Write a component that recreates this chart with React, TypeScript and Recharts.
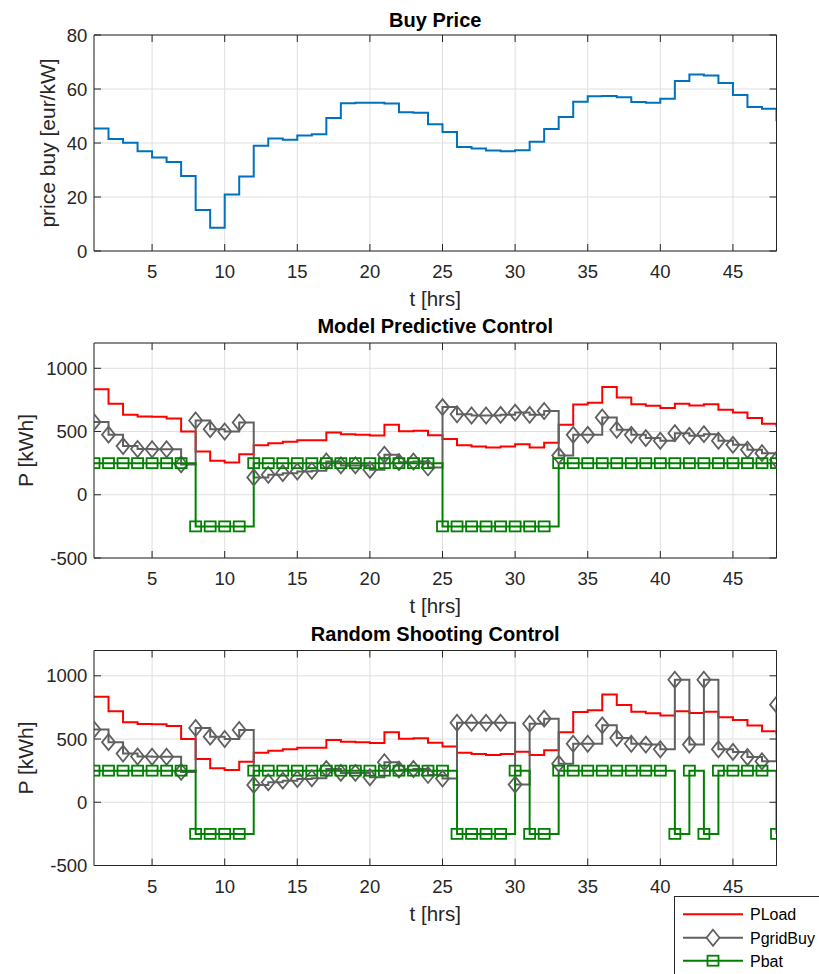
import React from 'react';
import { LineChart, Line, XAxis, YAxis, CartesianGrid } from 'recharts';

// ---------- data ----------
const hours = [1,2,3,4,5,6,7,8,9,10,11,12,13,14,15,16,17,18,19,20,21,22,23,24,25,26,27,28,29,30,31,32,33,34,35,36,37,38,39,40,41,42,43,44,45,46,47,48];

const priceBuy = [45.4,41.5,40.1,36.9,34.6,33.0,27.8,15.2,8.6,20.9,27.6,39.0,41.7,41.2,42.8,43.2,49.3,54.7,54.9,54.9,54.6,51.4,51.2,46.9,44.1,38.5,38.0,37.2,36.9,37.3,40.5,45.2,49.6,55.3,57.3,57.4,56.9,55.2,54.9,56.4,63.0,65.4,65.0,62.2,57.8,53.3,52.7,48.1];

const pLoad = [835,719,632,619,616,603,500,342,269,255,321,392,408,419,432,432,492,479,474,469,553,503,506,471,440,392,382,374,382,400,374,411,553,714,727,853,769,716,703,687,719,706,716,672,650,606,561,535];

const pGridMPC = [575,475,385,362,360,360,240,587,519,500,571,137,158,171,184,190,263,232,232,198,316,258,263,216,693,637,627,627,632,650,632,662,310,474,474,611,514,474,448,427,487,466,479,427,395,356,329,277];
const pBatMPC = [250,250,250,250,250,250,250,-250,-250,-250,-250,250,250,250,250,250,250,250,250,250,250,250,250,250,-250,-250,-250,-250,-250,-250,-250,-250,250,250,250,250,250,250,250,250,250,250,250,250,250,250,250,250];

const pGridRS = [575,475,385,362,360,360,240,587,519,500,571,137,158,171,184,190,263,232,232,198,316,258,263,216,187,629,629,629,629,140,621,661,305,463,463,608,508,463,456,419,969,456,969,419,398,358,324,772];
const pBatRS = [250,250,250,250,250,250,250,-250,-250,-250,-250,250,250,250,250,250,250,250,250,250,250,250,250,250,250,-250,-250,-250,-250,250,-250,-250,250,250,250,250,250,250,250,250,-250,250,-250,250,250,250,250,-250];

const xTicks = [5,10,15,20,25,30,35,40,45];
const priceTicks = [0,20,40,60,80];
const powerTicks = [-500,0,500,1000];

const titles = ['Buy Price', 'Model Predictive Control', 'Random Shooting Control'];
const xLabel = 't [hrs]';
const yLabels = ['price buy [eur/kW]', 'P [kWh]', 'P [kWh]'];
const legendNames = ['PLoad', 'PgridBuy', 'Pbat'];

// ---------- styling ----------
const FONT = '"Liberation Sans", Arial, Helvetica, sans-serif';
const AX = '#262626';
const GRID = '#dfdfdf';
const BLUE = '#0072BD';
const RED = '#ff0000';
const GRAY = '#606060';
const GREEN = '#008000';
const PLOT_L = 94;
const PLOT_R = 776.5;
const W = 819;

const priceData = hours.map((t, i) => ({ t, price: priceBuy[i] }));
const mpcData = hours.map((t, i) => ({ t, load: pLoad[i], grid: pGridMPC[i], bat: pBatMPC[i] }));
const rsData = hours.map((t, i) => ({ t, load: pLoad[i], grid: pGridRS[i], bat: pBatRS[i] }));

const diamondDot = (props: any) => {
  const { cx, cy, index } = props;
  if (cx == null || cy == null) return <g key={`dd-${index}`} />;
  return (
    <path key={`dd-${index}`} d={`M${cx},${cy - 8} L${cx + 6.5},${cy} L${cx},${cy + 8} L${cx - 6.5},${cy} Z`}
      fill="none" stroke={GRAY} strokeWidth={1.8} />
  );
};
const squareDot = (props: any) => {
  const { cx, cy, index } = props;
  if (cx == null || cy == null) return <g key={`sq-${index}`} />;
  return <rect key={`sq-${index}`} x={cx - 5.5} y={cy - 5} width={11} height={10} fill="none" stroke={GREEN} strokeWidth={1.8} />;
};

const tickStyle = { fontSize: 18.5, fill: AX, fontFamily: FONT };

function renderAxes(yDomain: number[], yTicks: number[]) {
  return [
    <CartesianGrid key="g" stroke={GRID} strokeWidth={1} />,
    <XAxis key="xb" dataKey="t" type="number" domain={[1, 48]} ticks={xTicks} interval={0} allowDataOverflow
      orientation="bottom" height={30} tickSize={-7} tickMargin={21.2} tick={tickStyle} stroke={AX} />,
    <XAxis key="xt" xAxisId="top" dataKey="t" type="number" domain={[1, 48]} ticks={xTicks} interval={0} allowDataOverflow
      orientation="top" height={10} tickSize={-7} tickFormatter={() => ''} stroke={AX} />,
    <YAxis key="yl" type="number" domain={yDomain} ticks={yTicks} interval={0} allowDataOverflow
      orientation="left" width={60} tickSize={-7} tickMargin={13.7} tick={tickStyle} stroke={AX} />,
    <YAxis key="yr" yAxisId="right" type="number" domain={yDomain} ticks={yTicks} interval={0} allowDataOverflow
      orientation="right" width={10} tickSize={-7} tickFormatter={() => ''} stroke={AX} />,
  ];
}

function PowerChart({ data, top, height, plotTop, plotBottom }: any) {
  return (
    <div style={{ position: 'absolute', left: 0, top }}>
      <LineChart width={W} height={height} data={data}
        margin={{ top: plotTop - 10, bottom: height - plotBottom - 30, left: PLOT_L - 60, right: W - PLOT_R - 10 }}>
        {renderAxes([-500, 1200], powerTicks)}
        <Line type="stepAfter" dataKey="load" stroke={RED} strokeWidth={2} dot={false} isAnimationActive={false} />
        <Line type="stepAfter" dataKey="grid" stroke={GRAY} strokeWidth={2} dot={diamondDot} isAnimationActive={false} />
        <Line type="stepAfter" dataKey="bat" stroke={GREEN} strokeWidth={2} dot={squareDot} isAnimationActive={false} />
      </LineChart>
    </div>
  );
}

export default function App() {
  const titleY = [27.3, 333.3, 641];
  const xLabelY = [306, 613, 921];
  const yLab = [
    { x: 55, y: 143 },
    { x: 33, y: 450.5 },
    { x: 33, y: 758 },
  ];
  const cx = (PLOT_L + PLOT_R) / 2;
  const legendY = [914.3, 937.7, 960.7];
  return (
    <div style={{ position: 'fixed', left: 0, top: 0, width: W, height: 974, background: '#fff', fontFamily: FONT, overflow: 'hidden' }}>
      <div style={{ position: 'absolute', left: 0, top: 0 }}>
        <LineChart width={W} height={300} data={priceData}
          margin={{ top: 35 - 10, bottom: 300 - 251 - 30, left: PLOT_L - 60, right: W - PLOT_R - 10 }}>
          {renderAxes([0, 80], priceTicks)}
          <Line type="stepAfter" dataKey="price" stroke={BLUE} strokeWidth={2} dot={false} isAnimationActive={false} />
        </LineChart>
      </div>
      <PowerChart data={mpcData} top={300} height={310} plotTop={43} plotBottom={258} />
      <PowerChart data={rsData} top={610} height={364} plotTop={40.5} plotBottom={255.5} />
      <svg width={W} height={974} style={{ position: 'absolute', left: 0, top: 0, pointerEvents: 'none', fontFamily: FONT }}>
        {titles.map((t, i) => (
          <text key={`t${i}`} x={cx} y={titleY[i]} textAnchor="middle" fontSize={20} fontWeight="bold" fill="#000">{t}</text>
        ))}
        {xLabelY.map((y, i) => (
          <text key={`x${i}`} x={cx} y={y} textAnchor="middle" fontSize={20.5} fill={AX}>{xLabel}</text>
        ))}
        {yLab.map((p, i) => (
          <text key={`y${i}`} x={p.x} y={p.y} textAnchor="middle" fontSize={21} fill={AX}
            transform={`rotate(-90 ${p.x} ${p.y})`}>{yLabels[i]}</text>
        ))}
        <rect x={674.5} y={896.5} width={170} height={100} fill="#fff" stroke={AX} strokeWidth={1} />
        {legendNames.map((n, i) => {
          const y = legendY[i];
          const color = i === 0 ? RED : i === 1 ? GRAY : GREEN;
          return (
            <g key={`l${i}`}>
              <line x1={683} x2={743} y1={y} y2={y} stroke={color} strokeWidth={2} />
              {i === 1 && <path d={`M713,${y - 8} L719.5,${y} L713,${y + 8} L706.5,${y} Z`} fill="#fff" stroke={GRAY} strokeWidth={1.8} />}
              {i === 2 && <rect x={707.5} y={y - 5} width={11} height={10} fill="none" stroke={GREEN} strokeWidth={1.8} />}
              <text x={750} y={y + 6} fontSize={16} fill="#000">{n}</text>
            </g>
          );
        })}
      </svg>
    </div>
  );
}
